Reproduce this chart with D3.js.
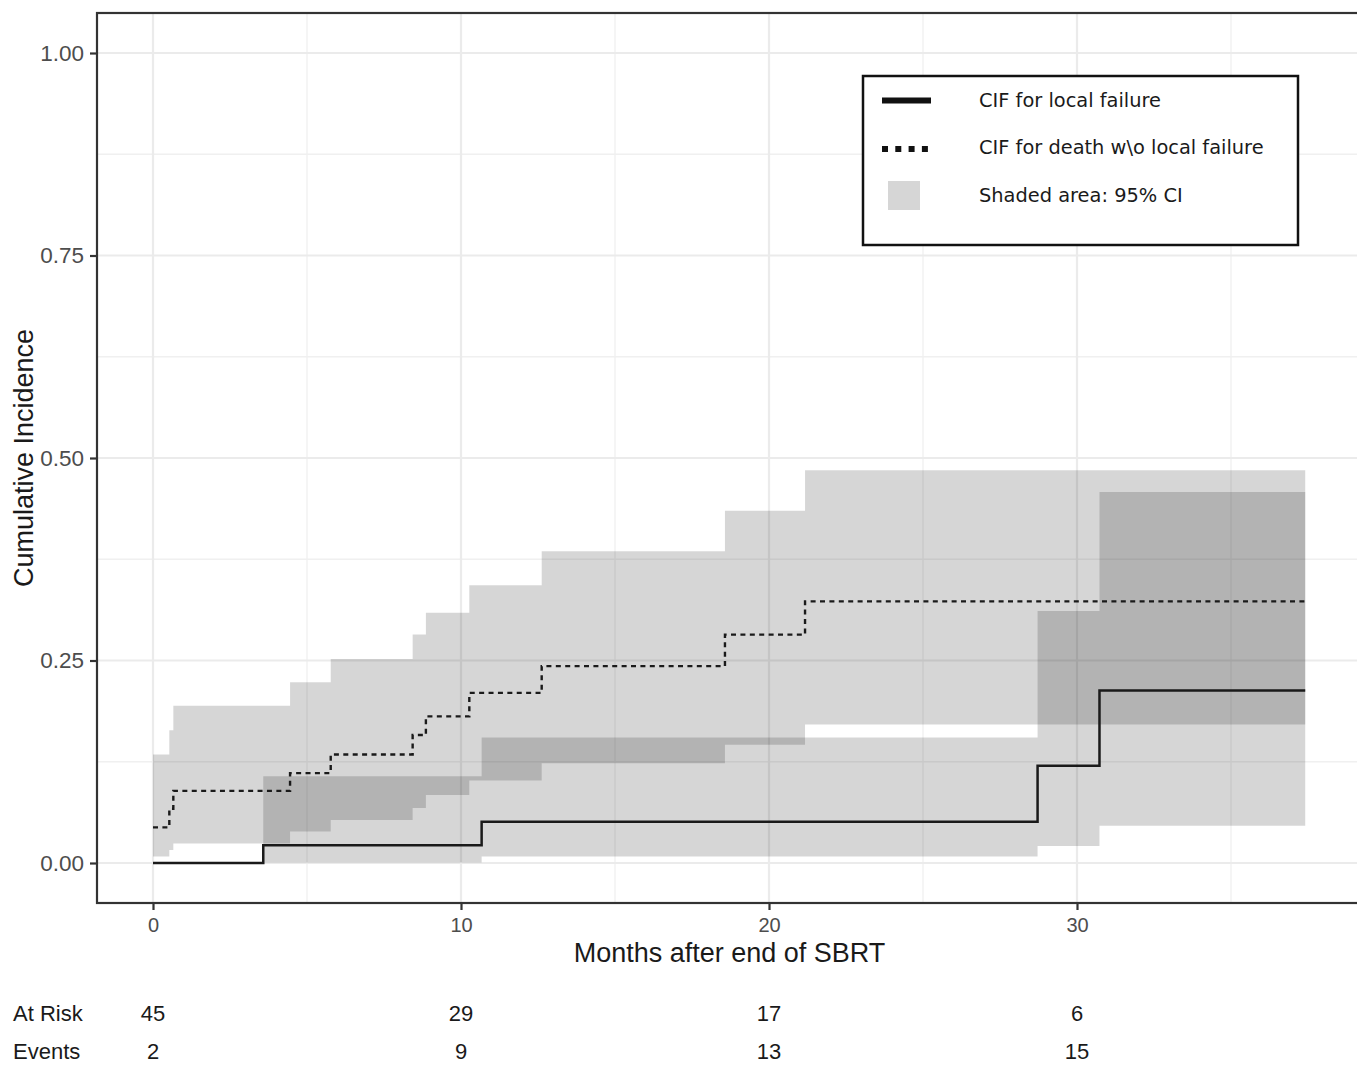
<!DOCTYPE html>
<html>
<head>
<meta charset="utf-8">
<script src="https://cdn.jsdelivr.net/npm/d3@7"></script>
<style>
  body { margin: 0; background: #fff; }
  svg { display: block; }
</style>
</head>
<body>
<svg id="chart" width="1357" height="1065"></svg>
<script>
//==========================================
// Data
//==========================================

// CIF for local failure (step function, value holds from each time on)
const lfTimes = [0, 3.58, 10.67, 28.72, 30.73, 37.41];
const lfCif   = [0, 0.022, 0.051, 0.120, 0.213, 0.213];
const lfUpper = [null, 0.107, 0.155, 0.311, 0.458, 0.458];
const lfLower = [null, 0.0005, 0.008, 0.021, 0.046, 0.046];

// CIF for death without local failure
const deathTimes = [0, 0.53, 0.66, 4.45, 5.77, 8.43, 8.86, 10.27, 12.62, 18.57, 21.17, 37.41];
const deathCif   = [0.044, 0.067, 0.089, 0.111, 0.134, 0.158, 0.181, 0.210, 0.243, 0.282, 0.323, 0.323];
const deathUpper = [0.134, 0.164, 0.194, 0.223, 0.252, 0.282, 0.309, 0.343, 0.385, 0.435, 0.485, 0.485];
const deathLower = [0.008, 0.016, 0.024, 0.039, 0.053, 0.068, 0.084, 0.102, 0.123, 0.146, 0.171, 0.171];

// Axis ticks
const xMajor = [0, 10, 20, 30];
const xMinor = [5, 15, 25, 35];
const yMajor = [0, 0.25, 0.5, 0.75, 1];
const yMinor = [0.125, 0.375, 0.625, 0.875];

// Risk table under the plot
const riskTimes = [0, 10, 20, 30];
const atRisk = [45, 29, 17, 6];
const events = [2, 9, 13, 15];

const legendLabels = ["CIF for local failure", "CIF for death w\\o local failure", "Shaded area: 95% CI"];

//==========================================
// Layout
//==========================================

const PANEL = { left: 97, top: 13, right: 1362, bottom: 903 };
const AXIS_FONT = "'Liberation Sans', Arial, sans-serif";
const LEGEND_FONT = "'DejaVu Sans', Verdana, sans-serif";

const svg = d3.select("#chart");

const x = d3.scaleLinear().domain([0, 30]).range([153, 1077]);
const y = d3.scaleLinear().domain([0, 1]).range([863, 53]);

// Zip parallel arrays into row objects
function zipRows(times, est, lo, hi) {
  return times.map((t, i) => ({ t, est: est[i], lo: lo[i], hi: hi[i] }));
}

const lfRows = zipRows(lfTimes, lfCif, lfLower, lfUpper);
const deathRows = zipRows(deathTimes, deathCif, deathLower, deathUpper);

//==========================================
// Grid
//==========================================

const grid = svg.append("g");

grid.selectAll(".xminor").data(xMinor).enter().append("line")
  .attr("x1", d => x(d)).attr("x2", d => x(d))
  .attr("y1", PANEL.top).attr("y2", PANEL.bottom)
  .style("stroke", "#f0f0f0").style("stroke-width", 1.3);

grid.selectAll(".yminor").data(yMinor).enter().append("line")
  .attr("x1", PANEL.left).attr("x2", PANEL.right)
  .attr("y1", d => y(d)).attr("y2", d => y(d))
  .style("stroke", "#f0f0f0").style("stroke-width", 1.3);

grid.selectAll(".xmajor").data(xMajor).enter().append("line")
  .attr("x1", d => x(d)).attr("x2", d => x(d))
  .attr("y1", PANEL.top).attr("y2", PANEL.bottom)
  .style("stroke", "#ebebeb").style("stroke-width", 2.2);

grid.selectAll(".ymajor").data(yMajor).enter().append("line")
  .attr("x1", PANEL.left).attr("x2", PANEL.right)
  .attr("y1", d => y(d)).attr("y2", d => y(d))
  .style("stroke", "#ebebeb").style("stroke-width", 2.2);

//==========================================
// Confidence bands and CIF curves
//==========================================

const band = d3.area()
  .defined(d => d.lo != null && d.hi != null)
  .curve(d3.curveStepAfter)
  .x(d => x(d.t))
  .y0(d => y(d.lo))
  .y1(d => y(d.hi));

const step = d3.line()
  .curve(d3.curveStepAfter)
  .x(d => x(d.t))
  .y(d => y(d.est));

[deathRows, lfRows].forEach(rows => {
  svg.append("path")
    .datum(rows)
    .attr("d", band)
    .style("fill", "#000")
    .style("fill-opacity", 0.16);
});

svg.append("path")
  .datum(deathRows)
  .attr("d", step)
  .style("fill", "none")
  .style("stroke", "#1a1a1a")
  .style("stroke-width", 2.4)
  .style("stroke-dasharray", "5,4.4");

svg.append("path")
  .datum(lfRows)
  .attr("d", step)
  .style("fill", "none")
  .style("stroke", "#1a1a1a")
  .style("stroke-width", 2.5);

//==========================================
// Panel border and axes
//==========================================

svg.append("rect")
  .attr("x", PANEL.left).attr("y", PANEL.top)
  .attr("width", PANEL.right - PANEL.left)
  .attr("height", PANEL.bottom - PANEL.top)
  .style("fill", "none")
  .style("stroke", "#333")
  .style("stroke-width", 2.2);

const yAxis = svg.append("g")
  .attr("transform", `translate(${PANEL.left},0)`)
  .call(d3.axisLeft(y).tickValues(yMajor).tickFormat(d3.format(".2f")).tickSize(7).tickPadding(6));

const xAxis = svg.append("g")
  .attr("transform", `translate(0,${PANEL.bottom})`)
  .call(d3.axisBottom(x).tickValues(xMajor).tickFormat(d3.format("d")).tickSize(7));

[yAxis, xAxis].forEach(ax => {
  ax.select(".domain").remove();
  ax.selectAll(".tick line").style("stroke", "#333").style("stroke-width", 2.2);
  ax.selectAll(".tick text")
    .style("fill", "#4d4d4d")
    .style("font-family", AXIS_FONT);
});

yAxis.selectAll(".tick text").style("font-size", "22.5px");
xAxis.selectAll(".tick text")
  .style("font-size", "20px")
  .attr("y", 29)
  .attr("dy", null);

// Axis titles
svg.append("text")
  .attr("x", (PANEL.left + PANEL.right) / 2)
  .attr("y", 962)
  .attr("text-anchor", "middle")
  .style("font-family", AXIS_FONT)
  .style("font-size", "27px")
  .style("fill", "#1a1a1a")
  .text("Months after end of SBRT");

svg.append("text")
  .attr("transform", `translate(33,${(PANEL.top + PANEL.bottom) / 2}) rotate(-90)`)
  .attr("text-anchor", "middle")
  .style("font-family", AXIS_FONT)
  .style("font-size", "27px")
  .style("fill", "#1a1a1a")
  .text("Cumulative Incidence");

//==========================================
// Risk table
//==========================================

function riskRow(label, values, baseline) {
  svg.append("text")
    .attr("x", 13).attr("y", baseline)
    .style("font-family", AXIS_FONT)
    .style("font-size", "22px")
    .style("fill", "#1a1a1a")
    .text(label);

  svg.selectAll(null).data(values).enter().append("text")
    .attr("x", (d, i) => x(riskTimes[i]))
    .attr("y", baseline)
    .attr("text-anchor", "middle")
    .style("font-family", AXIS_FONT)
    .style("font-size", "22px")
    .style("fill", "#1a1a1a")
    .text(d => d);
}

riskRow("At Risk", atRisk, 1021);
riskRow("Events", events, 1059);

//==========================================
// Legend
//==========================================

const legend = svg.append("g");

legend.append("rect")
  .attr("x", 863).attr("y", 76)
  .attr("width", 435).attr("height", 169)
  .style("fill", "#fff")
  .style("stroke", "#111")
  .style("stroke-width", 2.5);

legend.append("line")
  .attr("x1", 882).attr("x2", 931)
  .attr("y1", 100.5).attr("y2", 100.5)
  .style("stroke", "#111").style("stroke-width", 6);

legend.append("line")
  .attr("x1", 882).attr("x2", 931)
  .attr("y1", 149).attr("y2", 149)
  .style("stroke", "#111").style("stroke-width", 6)
  .style("stroke-dasharray", "6,7.3");

legend.append("rect")
  .attr("x", 888).attr("y", 181)
  .attr("width", 32).attr("height", 29)
  .style("fill", "#d6d6d6");

legend.selectAll(".label").data(legendLabels).enter().append("text")
  .attr("x", 979)
  .attr("y", (d, i) => 106.5 + i * 47.5)
  .style("font-family", LEGEND_FONT)
  .style("font-size", "19.4px")
  .style("fill", "#1a1a1a")
  .text(d => d);
</script>
</body>
</html>
